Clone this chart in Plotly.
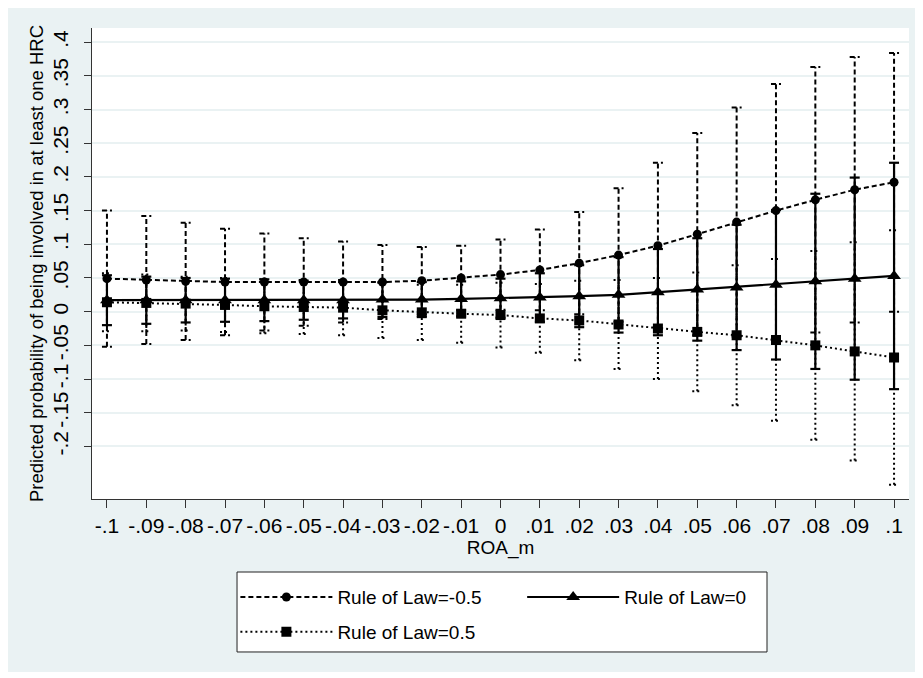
import plotly.graph_objects as go

# ---------------- data ----------------
roa = [-0.10, -0.09, -0.08, -0.07, -0.06, -0.05, -0.04, -0.03, -0.02, -0.01, 0.00,
       0.01, 0.02, 0.03, 0.04, 0.05, 0.06, 0.07, 0.08, 0.09, 0.10]
x_tick_text = ["-.1", "-.09", "-.08", "-.07", "-.06", "-.05", "-.04", "-.03", "-.02", "-.01", "0",
               ".01", ".02", ".03", ".04", ".05", ".06", ".07", ".08", ".09", ".1"]
y_tick_vals = [-0.20, -0.15, -0.10, -0.05, 0.00, 0.05, 0.10, 0.15, 0.20, 0.25, 0.30, 0.35, 0.40]
y_tick_text = ["-.2", "-.15", "-.1", "-.05", "0", ".05", ".1", ".15", ".2", ".25", ".3", ".35", ".4"]

# Rule of Law = -0.5 (circles, dashed)
p_rol_neg = [0.049, 0.047, 0.045, 0.044, 0.044, 0.044, 0.044, 0.044, 0.046, 0.050, 0.055,
             0.062, 0.072, 0.084, 0.098, 0.115, 0.133, 0.150, 0.166, 0.181, 0.192]
ci_rol_neg = [0.101, 0.095, 0.087, 0.079, 0.072, 0.065, 0.060, 0.055, 0.050, 0.048, 0.052,
              0.060, 0.076, 0.099, 0.123, 0.150, 0.170, 0.188, 0.197, 0.197, 0.192]

# Rule of Law = 0 (triangles, solid)
p_rol_zero = [0.017, 0.017, 0.017, 0.017, 0.017, 0.017, 0.017, 0.018, 0.018, 0.019, 0.020,
              0.021, 0.023, 0.025, 0.029, 0.033, 0.036, 0.040, 0.045, 0.049, 0.053]
ci_rol_zero = [0.037, 0.035, 0.033, 0.032, 0.031, 0.029, 0.027, 0.026, 0.026, 0.026, 0.029,
               0.036, 0.046, 0.056, 0.064, 0.076, 0.093, 0.111, 0.130, 0.150, 0.168]

# Rule of Law = 0.5 (squares, dotted)
p_rol_pos = [0.014, 0.013, 0.012, 0.010, 0.008, 0.007, 0.006, 0.002, -0.001, -0.003, -0.005,
             -0.010, -0.013, -0.019, -0.025, -0.030, -0.035, -0.042, -0.050, -0.059, -0.068]
ci_rol_pos = [0.043, 0.042, 0.040, 0.040, 0.040, 0.040, 0.041, 0.041, 0.041, 0.043, 0.048,
              0.051, 0.059, 0.066, 0.075, 0.088, 0.104, 0.120, 0.140, 0.162, 0.189]

series = [
    # name, mean, half CI, symbol, size, dash, width, legend, group
    ("Rule of Law=-0.5", p_rol_neg, ci_rol_neg, "circle", 9, "5px,3px", 2.0, "legend", "g1"),
    ("Rule of Law=0", p_rol_zero, ci_rol_zero, "triangle-up", 12, "solid", 2.2, "legend2", "g2"),
    ("Rule of Law=0.5", p_rol_pos, ci_rol_pos, "square", 10, "2px,3px", 2.0, "legend", "g3"),
]

BG = "#EAF2F3"
FONT = "Liberation Sans, Arial, sans-serif"
CAP = 0.00127  # half width of CI caps in x units


def ci_segments(x, mean, half):
    xs, ys = [], []
    for xi, mi, hi in zip(x, mean, half):
        lo, up = mi - hi, mi + hi
        xs += [xi, xi, None, xi - CAP, xi + CAP, None, xi - CAP, xi + CAP, None]
        ys += [lo, up, None, up, up, None, lo, lo, None]
    return xs, ys


fig = go.Figure()

for name, mean, half, sym, msize, dash, lw, leg, grp in series:
    xs, ys = ci_segments(roa, mean, half)
    fig.add_trace(go.Scatter(
        x=xs, y=ys, mode="lines", showlegend=False, hoverinfo="skip",
        line=dict(color="black", width=lw, dash=dash),
    ))

for name, mean, half, sym, msize, dash, lw, leg, grp in series:
    fig.add_trace(go.Scatter(
        x=roa, y=mean, mode="lines+markers", name=name, legend=leg, legendgroup=grp,
        line=dict(color="black", width=lw, dash=dash),
        marker=dict(symbol=sym, size=msize, color="black", line=dict(width=0)),
    ))

legend_common = dict(
    orientation="v", xanchor="left", yanchor="top", y=-0.168,
    bgcolor="rgba(0,0,0,0)", borderwidth=0,
    font=dict(family=FONT, size=19, color="black"),
    itemwidth=92, tracegroupgap=7,
)

fig.update_layout(
    width=910, height=664,
    paper_bgcolor=BG, plot_bgcolor="white",
    font=dict(family=FONT, size=19, color="black"),
    margin=dict(l=84, r=9, t=20, b=173, autoexpand=False),
    showlegend=True,
    legend=dict(x=0.1755, **legend_common),
    legend2=dict(x=0.5265, **legend_common),
    shapes=[dict(type="rect", xref="paper", yref="paper",
                 x0=0.1775, x1=0.8262, y0=-0.155, y1=-0.3248,
                 fillcolor="white", line=dict(color="#222222", width=1), layer="below")],
    xaxis=dict(
        range=[-0.1038, 0.1038], tickmode="array", tickvals=roa, ticktext=x_tick_text,
        showgrid=False, zeroline=False, showline=True, linecolor="#333333", linewidth=1,
        ticks="outside", ticklen=8, tickcolor="#333333", tickangle=0,
        tickfont=dict(size=21),
        title=dict(text="ROA_m", standoff=4, font=dict(size=19)),
    ),
    yaxis=dict(
        range=[-0.278, 0.421], tickmode="array", tickvals=y_tick_vals, ticktext=y_tick_text,
        showgrid=True, gridcolor=BG, gridwidth=1.5, zeroline=False,
        showline=True, linecolor="#333333", linewidth=1,
        ticks="outside", ticklen=7, tickcolor="#333333", tickangle=-90,
        ticklabelstandoff=8, tickfont=dict(size=21),
        title=dict(text="Predicted probability of being involved in at least one HRC",
                   standoff=0, font=dict(size=18.5)),
    ),
)

fig.write_html("out.html")
